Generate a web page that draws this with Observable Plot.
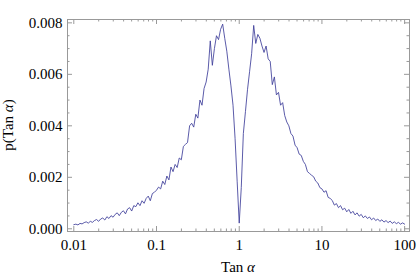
<!DOCTYPE html>
<html><head><meta charset="utf-8">
<script src="https://cdn.jsdelivr.net/npm/d3@7"></script>
<script src="https://cdn.jsdelivr.net/npm/@observablehq/plot@0.6"></script>
<style>
body{margin:0;background:#fff}
</style>
</head><body><div id="chart"></div>
<script>
const tanAlpha = [
0.01,0.01059,0.01122,0.01189,0.01259,0.01334,0.01413,0.01496,0.01585,0.01679,0.01778,0.01884,0.01995,0.02113,0.02239,0.02371,0.02512,0.02661,0.02818,0.02985,0.03162,0.0335,0.03548,0.03758,0.03981,0.04217,0.04467,0.04732,0.05012,0.05309,0.05623,0.05957,0.0631,0.06683,0.07079,0.07499,0.07943,0.08414,0.08913,0.09441,
0.1,0.1059,0.1122,0.1189,0.1259,0.1334,0.1413,0.1496,0.1585,0.1679,0.1778,0.1884,0.1995,0.2113,0.2239,0.2371,0.2512,0.2661,0.2818,0.2985,0.3162,0.335,0.3548,0.3758,0.3981,0.4217,0.4467,0.4732,0.5012,0.5309,0.5623,0.5957,0.631,0.6683,0.7079,0.7499,0.7943,0.8414,0.8913,0.9441,
1,1.059,1.122,1.189,1.259,1.334,1.413,1.496,1.585,1.679,1.778,1.884,1.995,2.113,2.239,2.371,2.512,2.661,2.818,2.985,3.162,3.35,3.548,3.758,3.981,4.217,4.467,4.732,5.012,5.309,5.623,5.957,6.31,6.683,7.079,7.499,7.943,8.414,8.913,9.441,
10,10.59,11.22,11.89,12.59,13.34,14.13,14.96,15.85,16.79,17.78,18.84,19.95,21.13,22.39,23.71,25.12,26.61,28.18,29.85,31.62,33.5,35.48,37.58,39.81,42.17,44.67,47.32,50.12,53.09,56.23,59.57,63.1,66.83,70.79,74.99,79.43,84.14,89.13,94.41,
100];
const density = [
0.00016,0.00018,0.00015,0.00021,0.00019,0.00024,0.00027,0.00022,0.00029,0.00025,0.00032,0.00036,0.00029,0.00038,0.00042,0.00034,0.00047,0.00040,0.00051,0.00045,0.00056,0.00062,0.00051,0.00064,0.00070,0.00058,0.00077,0.00082,0.00069,0.00090,0.00086,0.00101,0.00090,0.00109,0.00099,0.00118,0.00127,0.00109,0.00137,0.00142,
0.00150,0.00162,0.00155,0.00185,0.00172,0.00205,0.00190,0.00240,0.00222,0.00250,0.00238,0.00275,0.00268,0.00320,0.00328,0.00335,0.00400,0.00410,0.00395,0.00445,0.00430,0.00500,0.00480,0.00545,0.00570,0.00620,0.00730,0.00635,0.00700,0.00750,0.00735,0.00775,0.00795,0.00740,0.00690,0.00620,0.00555,0.00480,0.00350,0.00185,
0.00022,
0.00160,0.00370,0.00455,0.00540,0.00610,0.00680,0.00790,0.00720,0.00755,0.00740,0.00710,0.00685,0.00710,0.00660,0.00650,0.00560,0.00590,0.00520,0.00530,0.00480,0.00490,0.00440,0.00415,0.00400,0.00370,0.00360,0.00325,0.00315,0.00290,0.00285,0.00262,0.00250,0.00222,0.00215,0.00208,0.00202,0.00185,0.00178,0.00160,
0.00155,0.00142,0.00148,0.00122,0.00118,0.00110,0.00092,0.00098,0.00082,0.00090,0.00074,0.00080,0.00066,0.00075,0.00060,0.00068,0.00054,0.00062,0.00049,0.00056,0.00043,0.00050,0.00040,0.00046,0.00035,0.00042,0.00032,0.00038,0.00029,0.00035,0.00026,0.00032,0.00024,0.00030,0.00021,0.00027,0.00020,0.00025,0.00018,0.00023,0.00018];

const xTicks = [0.01, 0.1, 1, 10, 100];
const xTickLabels = ["0.01", "0.1", "1", "10", "100"];
const xMinorTicks = [0.02,0.03,0.04,0.05,0.06,0.07,0.08,0.09,0.2,0.3,0.4,0.5,0.6,0.7,0.8,0.9,2,3,4,5,6,7,8,9,20,30,40,50,60,70,80,90];
const yTicks = [0, 0.002, 0.004, 0.006, 0.008];
const yTickLabels = ["0.000", "0.002", "0.004", "0.006", "0.008"];
const yMinorTicks = [0.0005,0.001,0.0015,0.0025,0.003,0.0035,0.0045,0.005,0.0055,0.0065,0.007,0.0075];

const data = tanAlpha.map((t, i) => ({t, p: density[i]}));

const W = 417, H = 277, mL = 67, mR = 8, mT = 19, mB = 46;
const xDomain = [0.00839, 114.5];
const yDomain = [-0.000105, 0.00813];
const plotW = W - mL - mR, plotH = H - mT - mB;
const decPx = plotW / Math.log10(xDomain[1] / xDomain[0]);
const yPerPx = (yDomain[1] - yDomain[0]) / plotH;
const xf = px => Math.pow(10, px / decPx);
const gray = "#999";
const major = 5, minor = 2.5;
const FONT = "Liberation Serif";
const FS = 15;

function xTickRules(vals, len) {
  return [
    Plot.ruleX(vals, {x: d => d, y1: yDomain[0], y2: yDomain[0] + len * yPerPx, stroke: gray, strokeWidth: 1}),
    Plot.ruleX(vals, {x: d => d, y1: yDomain[1], y2: yDomain[1] - len * yPerPx, stroke: gray, strokeWidth: 1})
  ];
}
function yTickRules(vals, len) {
  return [
    Plot.ruleY(vals, {y: d => d, x1: xDomain[0], x2: xDomain[0] * xf(len), stroke: gray, strokeWidth: 1}),
    Plot.ruleY(vals, {y: d => d, x1: xDomain[1], x2: xDomain[1] / xf(len), stroke: gray, strokeWidth: 1})
  ];
}

const chart = Plot.plot({
  width: W, height: H,
  marginLeft: mL, marginRight: mR, marginTop: mT, marginBottom: mB,
  style: {fontFamily: FONT, fontSize: FS + "px", color: "black", background: "white"},
  x: {type: "log", domain: xDomain},
  y: {domain: yDomain},
  marks: [
    ...xTickRules(xTicks, major),
    ...xTickRules(xMinorTicks, minor),
    ...yTickRules(yTicks, major),
    ...yTickRules(yMinorTicks, minor),
    Plot.frame({stroke: gray, strokeWidth: 1}),
    Plot.axisX(xTicks, {tickSize: 0, tickPadding: 8, tickFormat: d => xTickLabels[xTicks.indexOf(d)], label: null, fontSize: FS}),
    Plot.axisY(yTicks, {tickSize: 0, tickPadding: 5, tickFormat: d => yTickLabels[yTicks.indexOf(d)], label: null, fontSize: FS}),
    Plot.line(data, {x: "t", y: "p", stroke: "#3d3d99", strokeWidth: 0.85})
  ]
});

const svg = d3.select(chart);
const xl = svg.append("text")
  .attr("x", mL + plotW / 2).attr("y", 271.5)
  .attr("text-anchor", "middle").attr("font-size", FS).attr("fill", "black");
xl.append("tspan").text("Tan ");
xl.append("tspan").attr("font-style", "italic").text("α");

const yl = svg.append("text")
  .attr("transform", `translate(13,${mT + plotH / 2}) rotate(-90)`)
  .attr("text-anchor", "middle").attr("font-size", FS).attr("fill", "black");
yl.append("tspan").text("p(Tan ");
yl.append("tspan").attr("font-style", "italic").text("α");
yl.append("tspan").text(")");

document.getElementById("chart").appendChild(chart);
</script>
</body></html>
